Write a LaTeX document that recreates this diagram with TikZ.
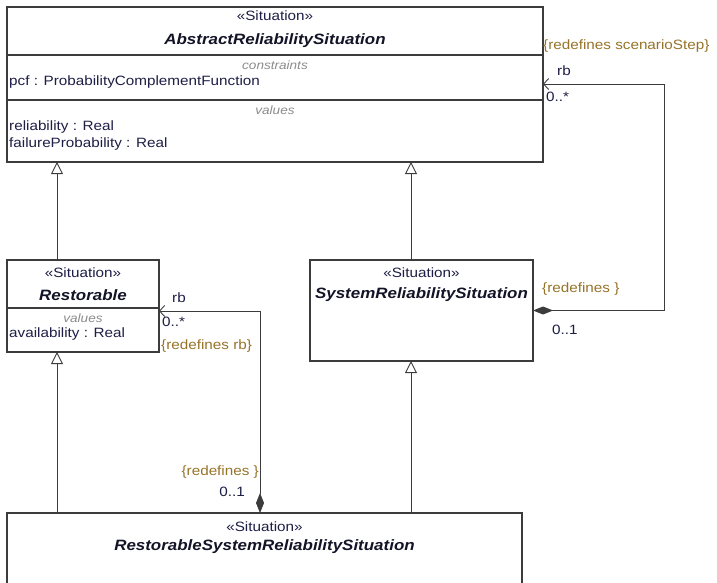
\documentclass[tikz,border=0pt]{standalone}
\usepackage{fontspec}
\setmainfont[FakeStretch=1.13]{Liberation Sans}
\usetikzlibrary{arrows.meta,calc}
\definecolor{txt}{RGB}{30,30,70}
\definecolor{nm}{RGB}{20,20,40}
\definecolor{sec}{RGB}{140,140,140}
\definecolor{rdf}{RGB}{150,115,40}
\definecolor{ln}{RGB}{60,60,60}
\begin{document}
\begin{tikzpicture}[x=1pt,y=1pt,
 box/.style={draw=ln, line width=1.2pt, fill=white, anchor=north west, inner sep=0, outer sep=0},
 t/.style={inner sep=0, text=txt, font=\fontsize{13.5}{16}\selectfont},
 nmst/.style={inner sep=0, text=nm, font=\fontsize{15}{17}\selectfont\bfseries\itshape},
 sect/.style={inner sep=0, text=sec, font=\fontsize{12}{14}\selectfont\itshape},
 rd/.style={inner sep=0, text=rdf, font=\fontsize{13.5}{16}\selectfont},
 div/.style={draw=ln, line width=1.2pt},
 gen/.style={draw=ln, line width=0.9pt, -{Triangle[open, length=12pt, width=12pt, fill=white]}},
 asc/.style={draw=ln, line width=0.9pt, {Diamond[length=20pt,width=8pt,fill=ln]}-{Straight Barb[length=5pt,width=11pt]}},
]
\useasboundingbox (0,0) rectangle (717,-583);
\clip (0,0) rectangle (717,-583);

% boxes
\node[box, minimum width=536, minimum height=155] (ars) at (7,-7) {};
\node[box, minimum width=152, minimum height=92] (rest) at (7,-260) {};
\node[box, minimum width=223, minimum height=101] (srs) at (310,-260) {};
\node[box, minimum width=515, minimum height=100] (bot) at (7,-513) {};

% compartments
\draw[div] ($(ars.north west)+(0,-48)$) -- ($(ars.north east)+(0,-48)$);
\draw[div] ($(ars.north west)+(0,-93)$) -- ($(ars.north east)+(0,-93)$);
\draw[div] ($(rest.north west)+(0,-48)$) -- ($(rest.north east)+(0,-48)$);

% texts top box
\node[t] (ars-st) at (275,-16) {«Situation»};
\node[nmst] (ars-nm) at (275,-41) {AbstractReliabilitySituation};
\node[sect] (ars-c) at (275,-65) {constraints};
\node[t, anchor=west] (ars-pcf) at (9,-82) {pcf : ProbabilityComplementFunction};
\node[sect] (ars-v) at (275,-110) {values};
\node[t, anchor=west] (ars-r) at (9,-127) {reliability : Real};
\node[t, anchor=west] (ars-f) at (9,-144) {failureProbability : Real};

% Restorable
\node[t] (rest-st) at (83,-273) {«Situation»};
\node[nmst] (rest-nm) at (83,-295) {Restorable};
\node[sect] (rest-v) at (83,-318) {values};
\node[t, anchor=west] (rest-a) at (9,-334) {availability : Real};

% System
\node[t] (srs-st) at (421.5,-273) {«Situation»};
\node[nmst] (srs-nm) at (421.5,-295) {SystemReliabilitySituation};

% bottom
\node[t] (bot-st) at (264.5,-527) {«Situation»};
\node[nmst] (bot-nm) at (264.5,-547) {RestorableSystemReliabilitySituation};

% generalizations
\coordinate (gl) at (57,0);
\coordinate (gr) at (411,0);
\draw[gen] (rest.north -| gl) -- (ars.south -| gl);
\draw[gen] (srs.north -| gr) -- (ars.south -| gr);
\draw[gen] (bot.north -| gl) -- (rest.south -| gl);
\draw[gen] (bot.north -| gr) -- (srs.south -| gr);

% associations
\coordinate (a1) at (664,-84);
\draw[asc] (srs.east) -| (a1) -- (ars.east |- a1);
\coordinate (a2) at (260,-311);
\draw[asc] (bot.north -| a2) -- (a2) -- (rest.east |- a2);

% association labels
\node[rd, anchor=west] (l1) at (543,-46) {\{redefines scenarioStep\}};
\node[t, anchor=west] (l2) at (557,-71) {rb};
\node[t, anchor=west] (l3) at (546,-97) {0..*};
\node[rd, anchor=west] (l4) at (542,-289) {\{redefines \}};
\node[t, anchor=west] (l5) at (552,-330) {0..1};
\node[t, anchor=west] (l6) at (172,-298) {rb};
\node[t, anchor=west] (l7) at (162,-322) {0..*};
\node[rd, anchor=west] (l8) at (161,-346) {\{redefines rb\}};
\node[rd, anchor=east] (l9) at (259,-472) {\{redefines \}};
\node[t, anchor=east] (l10) at (245,-492) {0..1};
\end{tikzpicture}
\end{document}
